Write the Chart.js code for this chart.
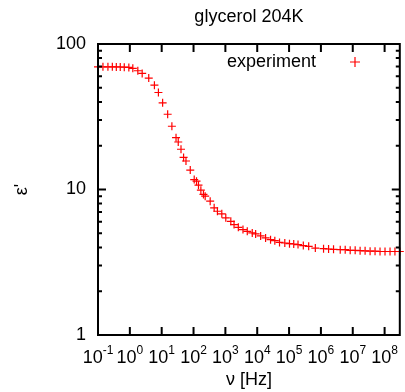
<!DOCTYPE html>
<html>
<head>
<meta charset="utf-8">
<title>glycerol 204K</title>
<script src="https://cdn.jsdelivr.net/npm/chart.js@4.4.1/dist/chart.umd.min.js"></script>
<style>
    html, body { margin: 0; padding: 0; background: #ffffff; }
    #contenedor { width: 405px; height: 392px; }
</style>
</head>
<body>
<div id="contenedor"><canvas id="grafico"></canvas></div>
<script>
// datos
const frecuencias = [0.1, 0.143, 0.205, 0.282, 0.376, 0.50, 0.668, 0.93, 1.24, 1.78,
    2.44, 3.92, 5.91, 7.89, 10.7, 15.4, 20.9, 28.2, 33.1, 40.4,
    48.7, 57.9, 78.9, 105, 124, 143, 170, 205, 232, 333,
    444, 562, 772, 1030, 1480, 1870, 2550, 3570, 4870, 6980,
    8910, 1.28e4, 1.83e4, 2.62e4, 3.57e4, 5.01e4, 7.34e4, 1.03e5, 1.40e5, 1.91e5,
    2.8e5, 4.13e5, 6.68e5, 1.21e6, 1.74e6, 2.49e6, 4.04e6, 5.79e6, 8.3e6, 1.19e7,
    1.70e7, 2.44e7, 3.50e7, 5.01e7, 7.18e7, 1.03e8, 1.48e8, 2.11e8, 3.0e8];
const epsilonReal = [69.7, 69.7, 69.7, 69.7, 69.6, 69.5, 69.3, 69.0, 68.0, 65.5,
    62.8, 58.3, 52.1, 46.4, 39.4, 32.9, 27.2, 22.7, 21.2, 18.9,
    16.6, 15.7, 13.6, 11.7, 11.4, 10.7, 9.9, 9.25, 9.0, 8.31,
    7.48, 7.09, 6.81, 6.39, 6.04, 5.74, 5.50, 5.30, 5.16, 5.03,
    4.95, 4.80, 4.65, 4.52, 4.45, 4.33, 4.29, 4.24, 4.22, 4.18,
    4.12, 4.07, 3.96, 3.92, 3.90, 3.88, 3.86, 3.86, 3.82, 3.82,
    3.80, 3.79, 3.77, 3.77, 3.75, 3.75, 3.75, 3.75, 3.75];

const ticksX = [1e-1, 1e0, 1e1, 1e2, 1e3, 1e4, 1e5, 1e6, 1e7, 1e8];
const exponentesX = ["-1", "0", "1", "2", "3", "4", "5", "6", "7", "8"];
const ticksY = [1, 10, 100];
const etiquetasY = ["1", "10", "100"];
const ticksMenoresY = [2, 3, 4, 5, 6, 7, 8, 9, 20, 30, 40, 50, 60, 70, 80, 90];

const fuente = "'Liberation Sans', Arial, sans-serif";
const rojo = "#ff0000";

// marco de gnuplot con ticks hacia adentro, etiquetas 10^n y leyenda dentro del area
const marcoGnuplot = {
    id: "marcoGnuplot",
    afterDraw: (chart) => {
        const ctx = chart.ctx;
        const { left, right, top, bottom } = chart.chartArea;
        const ejeX = chart.scales.x;
        const ejeY = chart.scales.y;
        ctx.save();
        ctx.strokeStyle = "#000000";
        ctx.lineWidth = 2;
        ctx.beginPath();
        ticksX.forEach((v) => {
            const px = ejeX.getPixelForValue(v);
            ctx.moveTo(px, bottom);
            ctx.lineTo(px, bottom - 8);
            ctx.moveTo(px, top);
            ctx.lineTo(px, top + 8);
        });
        ticksY.forEach((v) => {
            const py = ejeY.getPixelForValue(v);
            ctx.moveTo(left, py);
            ctx.lineTo(left + 8, py);
            ctx.moveTo(right, py);
            ctx.lineTo(right - 8, py);
        });
        ticksMenoresY.forEach((v) => {
            const py = ejeY.getPixelForValue(v);
            ctx.moveTo(left, py);
            ctx.lineTo(left + 4, py);
            ctx.moveTo(right, py);
            ctx.lineTo(right - 4, py);
        });
        ctx.stroke();
        ctx.strokeRect(left, top, right - left, bottom - top);

        // etiquetas del eje x con exponente
        ctx.fillStyle = "#000000";
        ctx.textBaseline = "alphabetic";
        ctx.textAlign = "left";
        ticksX.forEach((v, i) => {
            const px = ejeX.getPixelForValue(v);
            ctx.font = `18px ${fuente}`;
            const anchoBase = ctx.measureText("10").width;
            ctx.font = `12px ${fuente}`;
            const anchoExp = ctx.measureText(exponentesX[i]).width;
            const x0 = px - (anchoBase + anchoExp) / 2;
            ctx.font = `18px ${fuente}`;
            ctx.fillText("10", x0, bottom + 28);
            ctx.font = `12px ${fuente}`;
            ctx.fillText(exponentesX[i], x0 + anchoBase, bottom + 19);
        });

        const ds = chart.data.datasets[0];
        ctx.font = `18px ${fuente}`;
        ctx.textAlign = "right";
        ctx.textBaseline = "middle";
        ctx.fillText(ds.label, 316, 62);
        ctx.strokeStyle = ds.borderColor;
        ctx.lineWidth = ds.borderWidth;
        ctx.beginPath();
        ctx.moveTo(350, 62);
        ctx.lineTo(360, 62);
        ctx.moveTo(355, 57);
        ctx.lineTo(355, 67);
        ctx.stroke();
        ctx.restore();
    },
};

const ctx = document.querySelector("#grafico").getContext("2d");
new Chart(ctx, {
    type: "scatter",
    data: {
        datasets: [
            {
                label: "experiment",
                data: frecuencias.map((f, i) => ({ x: f, y: epsilonReal[i] })),
                pointStyle: "cross",
                pointRadius: 4,
                borderColor: rojo,
                backgroundColor: rojo,
                borderWidth: 1.2,
                clip: false,
            },
        ],
    },
    options: {
        responsive: true,
        maintainAspectRatio: false,
        animation: false,
        layout: { padding: { top: 0, left: 0, right: 3, bottom: 0 } },
        plugins: {
            legend: { display: false },
            tooltip: { enabled: false },
            title: {
                display: true,
                fullSize: false,
                text: "glycerol 204K",
                color: "#000000",
                font: { family: fuente, size: 18, weight: "normal" },
                padding: { top: 6, bottom: 16.4 },
            },
        },
        scales: {
            x: {
                type: "logarithmic",
                min: 0.1,
                max: 3e8,
                grid: { display: false, drawTicks: false, tickLength: 0 },
                border: { display: false },
                afterBuildTicks: (eje) => {
                    eje.ticks = ticksX.map((v) => ({ value: v }));
                },
                afterFit: (eje) => {
                    eje.height = 57;
                    eje.paddingLeft = 0;
                    eje.paddingRight = 0;
                },
                ticks: { display: false },
                title: {
                    display: true,
                    text: "\u03BD [Hz]",
                    color: "#000000",
                    font: { family: fuente, size: 18 },
                    padding: { top: 0, bottom: 1 },
                },
            },
            y: {
                type: "logarithmic",
                min: 1,
                max: 100,
                grid: { display: false, drawTicks: false, tickLength: 0 },
                border: { display: false },
                afterBuildTicks: (eje) => {
                    eje.ticks = ticksY.map((v) => ({ value: v }));
                },
                afterFit: (eje) => {
                    eje.width = 98;
                    eje.paddingTop = 0;
                    eje.paddingBottom = 0;
                },
                ticks: {
                    autoSkip: false,
                    padding: 12,
                    color: "#000000",
                    font: { family: fuente, size: 18 },
                    callback: (valor, i) => etiquetasY[i],
                },
                title: {
                    display: true,
                    text: "\u03B5'",
                    color: "#000000",
                    font: { family: fuente, size: 18 },
                    padding: { top: 11, bottom: 0 },
                },
            },
        },
    },
    plugins: [marcoGnuplot],
});
</script>
</body>
</html>
